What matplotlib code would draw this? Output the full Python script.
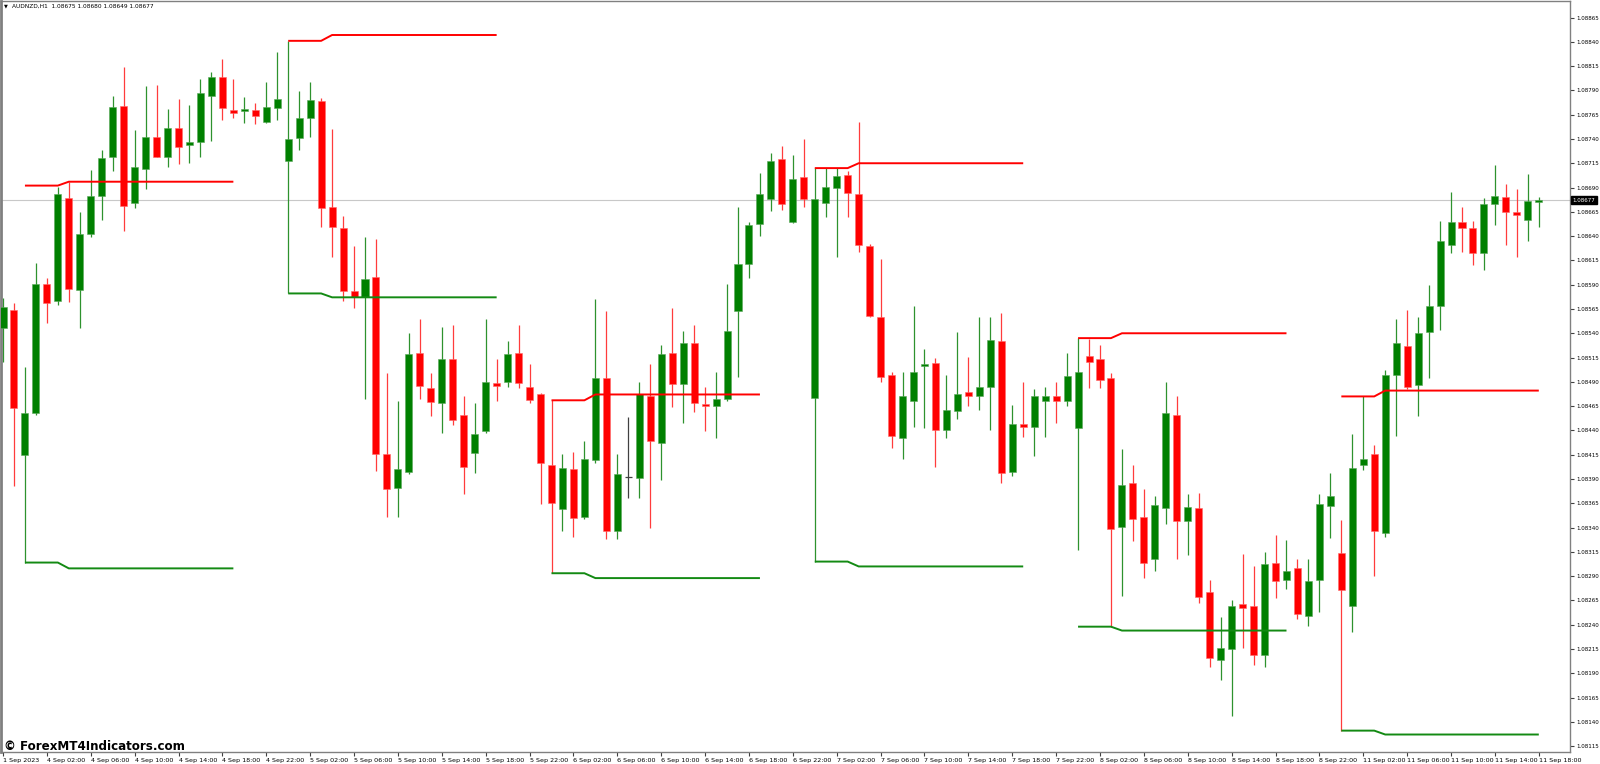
import matplotlib
matplotlib.use('Agg')
import matplotlib.pyplot as plt
import numpy as np

# AUDNZD H1 candles, 1 Sep 2023 22:00 .. 11 Sep 18:00
opens = [1.08545, 1.08564, 1.08415, 1.08458, 1.08591, 1.08573, 1.08679, 1.08585, 1.08642, 1.08681,
         1.08721, 1.08774, 1.08674, 1.08709, 1.08742, 1.08721, 1.08751, 1.08734, 1.08737, 1.08784,
         1.08804, 1.08770, 1.08769, 1.08770, 1.08757, 1.08772, 1.08717, 1.08741, 1.08762, 1.08779,
         1.08670, 1.08648, 1.08583, 1.08577, 1.08598, 1.08416, 1.08381, 1.08397, 1.08520, 1.08484,
         1.08468, 1.08514, 1.08456, 1.08417, 1.08439, 1.08489, 1.08490, 1.08520, 1.08485, 1.08477,
         1.08404, 1.08359, 1.08400, 1.08351, 1.08410, 1.08494, 1.08336, 1.08392, 1.08391, 1.08475,
         1.08427, 1.08520, 1.08488, 1.08530, 1.08466, 1.08465, 1.08472, 1.08563, 1.08611, 1.08652,
         1.08678, 1.08719, 1.08655, 1.08701, 1.08473, 1.08674, 1.08690, 1.08703, 1.08683, 1.08630,
         1.08557, 1.08497, 1.08432, 1.08470, 1.08506, 1.08509, 1.08440, 1.08460, 1.08480, 1.08475,
         1.08485, 1.08532, 1.08397, 1.08447, 1.08444, 1.08470, 1.08475, 1.08470, 1.08442, 1.08517,
         1.08513, 1.08494, 1.08341, 1.08386, 1.08351, 1.08308, 1.08360, 1.08456, 1.08347, 1.08360,
         1.08274, 1.08204, 1.08215, 1.08261, 1.08259, 1.08209, 1.08304, 1.08286, 1.08298, 1.08249,
         1.08286, 1.08362, 1.08314, 1.08259, 1.08404, 1.08416, 1.08334, 1.08497, 1.08527, 1.08487,
         1.08541, 1.08568, 1.08631, 1.08655, 1.08648, 1.08623, 1.08673, 1.08680, 1.08665, 1.08657,
         1.08675]
highs = [1.08576, 1.08571, 1.08505, 1.08612, 1.08597, 1.08691, 1.08696, 1.08665, 1.08708, 1.08729,
         1.08784, 1.08814, 1.08749, 1.08795, 1.08796, 1.08771, 1.08781, 1.08775, 1.08802, 1.08809,
         1.08822, 1.08802, 1.08783, 1.08777, 1.08799, 1.08830, 1.08841, 1.08789, 1.08799, 1.08782,
         1.08750, 1.08661, 1.08630, 1.08639, 1.08637, 1.08499, 1.08470, 1.08540, 1.08555, 1.08499,
         1.08546, 1.08548, 1.08475, 1.08468, 1.08555, 1.08514, 1.08532, 1.08548, 1.08508, 1.08479,
         1.08471, 1.08416, 1.08418, 1.08429, 1.08575, 1.08563, 1.08416, 1.08454, 1.08490, 1.08508,
         1.08528, 1.08566, 1.08542, 1.08549, 1.08485, 1.08500, 1.08591, 1.08670, 1.08655, 1.08705,
         1.08726, 1.08733, 1.08724, 1.08740, 1.08710, 1.08710, 1.08710, 1.08707, 1.08757, 1.08632,
         1.08616, 1.08500, 1.08500, 1.08568, 1.08524, 1.08515, 1.08497, 1.08541, 1.08516, 1.08557,
         1.08557, 1.08561, 1.08466, 1.08490, 1.08483, 1.08485, 1.08490, 1.08520, 1.08535, 1.08534,
         1.08528, 1.08499, 1.08421, 1.08404, 1.08380, 1.08373, 1.08490, 1.08475, 1.08375, 1.08376,
         1.08286, 1.08248, 1.08265, 1.08313, 1.08300, 1.08315, 1.08332, 1.08327, 1.08308, 1.08308,
         1.08375, 1.08396, 1.08348, 1.08436, 1.08475, 1.08425, 1.08502, 1.08555, 1.08564, 1.08557,
         1.08590, 1.08656, 1.08685, 1.08670, 1.08656, 1.08679, 1.08713, 1.08694, 1.08688, 1.08704,
         1.08680]
lows = [1.08510, 1.08383, 1.08304, 1.08456, 1.08551, 1.08569, 1.08572, 1.08545, 1.08639, 1.08657,
        1.08707, 1.08645, 1.08669, 1.08688, 1.08721, 1.08711, 1.08714, 1.08715, 1.08721, 1.08738,
        1.08760, 1.08762, 1.08756, 1.08755, 1.08756, 1.08760, 1.08581, 1.08729, 1.08742, 1.08649,
        1.08619, 1.08573, 1.08566, 1.08472, 1.08398, 1.08351, 1.08351, 1.08395, 1.08472, 1.08455,
        1.08437, 1.08446, 1.08375, 1.08396, 1.08437, 1.08470, 1.08485, 1.08484, 1.08468, 1.08364,
        1.08293, 1.08336, 1.08330, 1.08349, 1.08406, 1.08328, 1.08328, 1.08370, 1.08370, 1.08340,
        1.08389, 1.08464, 1.08448, 1.08459, 1.08439, 1.08432, 1.08470, 1.08495, 1.08597, 1.08640,
        1.08666, 1.08667, 1.08653, 1.08670, 1.08305, 1.08660, 1.08619, 1.08660, 1.08624, 1.08557,
        1.08490, 1.08422, 1.08411, 1.08444, 1.08443, 1.08402, 1.08432, 1.08452, 1.08465, 1.08461,
        1.08440, 1.08386, 1.08393, 1.08433, 1.08414, 1.08433, 1.08448, 1.08465, 1.08317, 1.08484,
        1.08484, 1.08238, 1.08270, 1.08326, 1.08288, 1.08295, 1.08344, 1.08308, 1.08312, 1.08262,
        1.08197, 1.08183, 1.08146, 1.08216, 1.08199, 1.08197, 1.08268, 1.08277, 1.08246, 1.08239,
        1.08253, 1.08329, 1.08131, 1.08233, 1.08399, 1.08290, 1.08330, 1.08434, 1.08483, 1.08455,
        1.08494, 1.08543, 1.08623, 1.08624, 1.08610, 1.08605, 1.08651, 1.08631, 1.08618, 1.08635,
        1.08649]
closes = [1.08567, 1.08463, 1.08458, 1.08591, 1.08571, 1.08683, 1.08586, 1.08642, 1.08681, 1.08720,
          1.08773, 1.08671, 1.08711, 1.08742, 1.08721, 1.08751, 1.08732, 1.08737, 1.08787, 1.08804,
          1.08772, 1.08767, 1.08771, 1.08764, 1.08773, 1.08781, 1.08740, 1.08762, 1.08780, 1.08669,
          1.08649, 1.08583, 1.08577, 1.08596, 1.08416, 1.08380, 1.08400, 1.08519, 1.08486, 1.08469,
          1.08514, 1.08451, 1.08402, 1.08436, 1.08490, 1.08486, 1.08519, 1.08489, 1.08471, 1.08406,
          1.08365, 1.08401, 1.08350, 1.08411, 1.08494, 1.08336, 1.08395, 1.08392, 1.08477, 1.08429,
          1.08519, 1.08488, 1.08530, 1.08468, 1.08465, 1.08472, 1.08542, 1.08611, 1.08651, 1.08683,
          1.08717, 1.08673, 1.08699, 1.08678, 1.08678, 1.08691, 1.08702, 1.08684, 1.08631, 1.08558,
          1.08495, 1.08434, 1.08475, 1.08500, 1.08508, 1.08440, 1.08461, 1.08478, 1.08475, 1.08485,
          1.08533, 1.08396, 1.08447, 1.08444, 1.08475, 1.08475, 1.08470, 1.08496, 1.08500, 1.08510,
          1.08492, 1.08339, 1.08384, 1.08349, 1.08304, 1.08363, 1.08458, 1.08347, 1.08361, 1.08269,
          1.08206, 1.08216, 1.08259, 1.08257, 1.08209, 1.08303, 1.08285, 1.08295, 1.08251, 1.08285,
          1.08364, 1.08373, 1.08276, 1.08401, 1.08411, 1.08336, 1.08497, 1.08530, 1.08485, 1.08540,
          1.08568, 1.08635, 1.08655, 1.08648, 1.08623, 1.08673, 1.08681, 1.08665, 1.08662, 1.08676,
          1.08677]

# daily range indicator: start bar of each day, resistance / support levels
seg_start = [2, 26, 50, 74, 98, 122]
res_first = [1.08692, 1.08841, 1.08471, 1.08710, 1.08535, 1.08475]
res_next = [1.08696, 1.08847, 1.08477, 1.08715, 1.08540, 1.08481]
sup_first = [1.08304, 1.08581, 1.08293, 1.08305, 1.08238, 1.08131]
sup_next = [1.08298, 1.08577, 1.08288, 1.08300, 1.08234, 1.08127]

x_labels = ['1 Sep 2023',
            '4 Sep 02:00', '4 Sep 06:00', '4 Sep 10:00', '4 Sep 14:00', '4 Sep 18:00', '4 Sep 22:00',
            '5 Sep 02:00', '5 Sep 06:00', '5 Sep 10:00', '5 Sep 14:00', '5 Sep 18:00', '5 Sep 22:00',
            '6 Sep 02:00', '6 Sep 06:00', '6 Sep 10:00', '6 Sep 14:00', '6 Sep 18:00', '6 Sep 22:00',
            '7 Sep 02:00', '7 Sep 06:00', '7 Sep 10:00', '7 Sep 14:00', '7 Sep 18:00', '7 Sep 22:00',
            '8 Sep 02:00', '8 Sep 06:00', '8 Sep 10:00', '8 Sep 14:00', '8 Sep 18:00', '8 Sep 22:00',
            '11 Sep 02:00', '11 Sep 06:00', '11 Sep 10:00', '11 Sep 14:00', '11 Sep 18:00']
last_price = 1.08677

GREEN = '#008000'
RED = '#ff0000'

fig = plt.figure(figsize=(16, 7.64), dpi=100)
ax = fig.add_axes([1 / 1600, 12 / 764, 1569 / 1600, 751 / 764])

o = np.array(opens)
h = np.array(highs)
l = np.array(lows)
c = np.array(closes)
x = np.arange(len(o))

up = c > o
down = c < o
doji = c == o

# current price line
ax.axhline(last_price, color='#c8c8c8', lw=0.8, zorder=1)

# wicks
ax.vlines(x[up], l[up], h[up], color='#2e922e', lw=0.9, zorder=2)
ax.vlines(x[down], l[down], h[down], color='#ff3c3c', lw=0.9, zorder=2)
ax.vlines(x[doji], l[doji], h[doji], color='#404040', lw=0.9, zorder=2)

# bodies
bw = 0.64
mn = 0.000018
ax.bar(x[up], np.maximum(c[up] - o[up], mn), bottom=o[up], width=bw,
       color=GREEN, edgecolor='#5aa85a', linewidth=0.4, zorder=3)
ax.bar(x[down], np.maximum(o[down] - c[down], mn), bottom=c[down], width=bw,
       color=RED, edgecolor='#ff6a6a', linewidth=0.4, zorder=3)
ax.hlines(o[doji], x[doji] - bw / 2, x[doji] + bw / 2, color='#404040', lw=0.9, zorder=3)

# indicator lines
n_last = len(o) - 1
for d, r1, r2, s1, s2 in zip(seg_start, res_first, res_next, sup_first, sup_next):
    xs = [d, d + 3, d + 4, min(d + 19, n_last)]
    ax.plot(xs, [r1, r1, r2, r2], color=RED, lw=1.4, zorder=4, solid_capstyle='butt')
    ax.plot(xs, [s1, s1, s2, s2], color='#138a13', lw=1.4, zorder=4, solid_capstyle='butt')

ax.set_xlim(-2 / 10.97, 1567 / 10.97)
ax.set_ylim(1.08109, 1.08882)

# axes look like the MT4 terminal
for side in ['left', 'top', 'right', 'bottom']:
    ax.spines[side].set_color('#808080')
    ax.spines[side].set_linewidth(1.0)
ax.spines['left'].set_linewidth(2.0)

yt = np.arange(1.08115, 1.08866, 0.00025)
ax.set_yticks(yt)
ax.set_yticklabels([f'{v:.5f}' for v in yt])
ax.yaxis.tick_right()
ax.tick_params(axis='y', direction='out', length=3, width=0.8, color='#404040',
               labelsize=4.0, pad=1.5, labelcolor='black')

xt = np.arange(0, len(o), 4)
ax.set_xticks(xt)
ax.set_xticklabels(x_labels, ha='left')
ax.tick_params(axis='x', direction='out', length=3, width=0.8, color='#404040',
               labelsize=4.6, pad=1.5, labelcolor='black')

# price tag on the right scale
ax.annotate(f'{last_price:.5f}', xy=(1.0, last_price), xycoords=('axes fraction', 'data'),
            xytext=(2.0, 0), textcoords='offset points', ha='left', va='center',
            fontsize=4.0, color='white',
            bbox=dict(boxstyle='square,pad=0.25', fc='black', ec='black'),
            annotation_clip=False)

# header and watermark
fig.text(4 / 1600, 1 - 6 / 764, '\u25bc', fontsize=3.6, va='center', ha='left', color='black')
fig.text(12 / 1600, 1 - 6 / 764, 'AUDNZD,H1  1.08675 1.08680 1.08649 1.08677',
         fontsize=4.2, va='center', ha='left', color='black')
fig.text(4 / 1600, 14 / 764, '\u00a9 ForexMT4Indicators.com', fontsize=8.6,
         fontweight='bold', va='baseline', ha='left', color='black')

fig.savefig('out.png', dpi=100)
